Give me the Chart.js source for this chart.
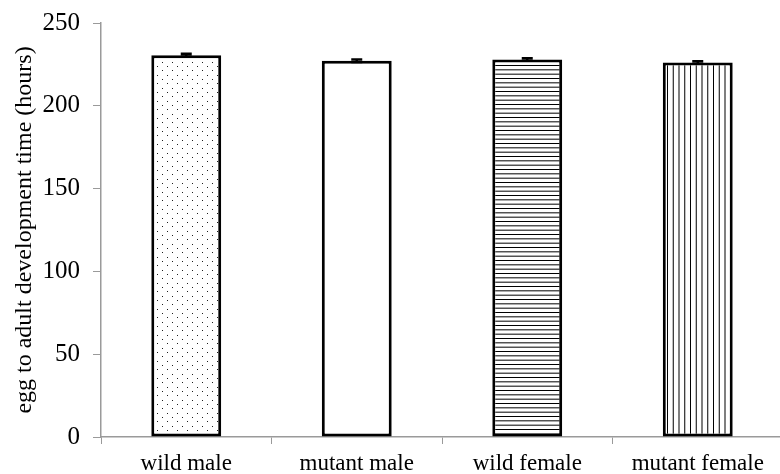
<!DOCTYPE html>
<html>
<head>
<meta charset="utf-8">
<script src="https://cdn.jsdelivr.net/npm/chart.js@4/dist/chart.umd.min.js"></script>
<style>
  html, body { margin: 0; padding: 0; background: #ffffff; overflow: hidden; }
  #wrap { width: 786px; height: 474px; }
</style>
</head>
<body>
<div id="wrap"><canvas id="chart" width="786" height="474"></canvas></div>
<script>
// Egg-to-adult development time (hours), mean ± SE per group
const categories = ['wild male', 'mutant male', 'wild female', 'mutant female'];
const devTime = [230.6, 227.2, 228.0, 226.2];
const devTimeErr = [0.8, 0.8, 0.8, 0.8];
const yTickValues = [0, 50, 100, 150, 200, 250];
const yTitle = 'egg to adult development time (hours)';

const SERIF = '"Liberation Serif", "Times New Roman", serif';
const AXIS_GREY = '#9a9a9a';

// Monochrome fill patterns for the bars
function makePattern(w, h, draw) {
  const c = document.createElement('canvas');
  c.width = w; c.height = h;
  const g = c.getContext('2d');
  g.fillStyle = '#ffffff';
  g.fillRect(0, 0, w, h);
  draw(g);
  return g.createPattern(c, 'repeat');
}
const ctx = document.getElementById('chart').getContext('2d');

const dots = makePattern(10, 26, g => {
  g.fillStyle = '#1e1e1e';
  const rows = [0, 4, 9, 13, 17, 22];
  rows.forEach((y, i) => g.fillRect(i % 2 ? 7 : 2, y + 1, 1, 1));
});
const hLines = makePattern(8, 13, g => {
  g.fillStyle = '#000000';
  [0, 4.33, 8.67].forEach(y => g.fillRect(0, y, 8, 1));
});
const vLines = makePattern(23, 8, g => {
  g.fillStyle = '#000000';
  [0, 5.75, 11.5, 17.25].forEach(x => g.fillRect(x, 0, 1, 8));
});
const fills = [dots, '#ffffff', hLines, vLines];

// Error bars with caps, drawn from the same data through the y scale
const errorBars = {
  id: 'errorBars',
  afterDatasetsDraw(chart) {
    const meta = chart.getDatasetMeta(0);
    const ys = chart.scales.y;
    const c = chart.ctx;
    c.save();
    c.strokeStyle = '#000000';
    c.lineWidth = 2.4;
    meta.data.forEach((bar, i) => {
      const x = bar.x;
      const hi = ys.getPixelForValue(devTime[i] + devTimeErr[i]);
      const lo = ys.getPixelForValue(devTime[i] - devTimeErr[i]);
      const half = 5.5;
      c.beginPath();
      c.moveTo(x, hi); c.lineTo(x, lo);
      c.moveTo(x - half, hi); c.lineTo(x + half, hi);
      c.moveTo(x - half, lo); c.lineTo(x + half, lo);
      c.stroke();
    });
    c.restore();
  }
};

new Chart(ctx, {
  type: 'bar',
  data: {
    labels: categories,
    datasets: [{
      data: devTime,
      backgroundColor: fills,
      borderColor: '#000000',
      borderWidth: 3,
      borderSkipped: false,
      barPercentage: 0.82,
      categoryPercentage: 0.5
    }]
  },
  options: {
    responsive: false,
    animation: false,
    devicePixelRatio: 1,
    layout: { padding: { top: 23, right: 3, bottom: 0, left: 0 } },
    plugins: {
      legend: { display: false },
      tooltip: { enabled: false }
    },
    scales: {
      x: {
        grid: { display: true, drawOnChartArea: false, drawTicks: true, tickLength: 7, color: AXIS_GREY, offset: true },
        border: { display: true, color: AXIS_GREY, width: 1.5 },
        ticks: { color: '#000000', font: { family: SERIF, size: 23 }, padding: 6, maxRotation: 0 },
        afterFit(scale) { scale.height = 37; }
      },
      y: {
        min: 0,
        max: 250,
        afterBuildTicks(scale) { scale.ticks = yTickValues.map(v => ({ value: v })); },
        grid: { display: true, drawOnChartArea: false, drawTicks: true, tickLength: 8, color: AXIS_GREY },
        border: { display: true, color: AXIS_GREY, width: 1.5 },
        ticks: { color: '#000000', font: { family: SERIF, size: 25 }, padding: 13 },
        title: {
          display: true,
          text: yTitle,
          color: '#000000',
          font: { family: SERIF, size: 24 },
          padding: { top: 10, bottom: 0 }
        },
        afterFit(scale) {
          scale.width = 101;
          scale.paddingTop = 0;
          scale.paddingBottom = 0;
        }
      }
    }
  },
  plugins: [errorBars]
});
</script>
</body>
</html>
